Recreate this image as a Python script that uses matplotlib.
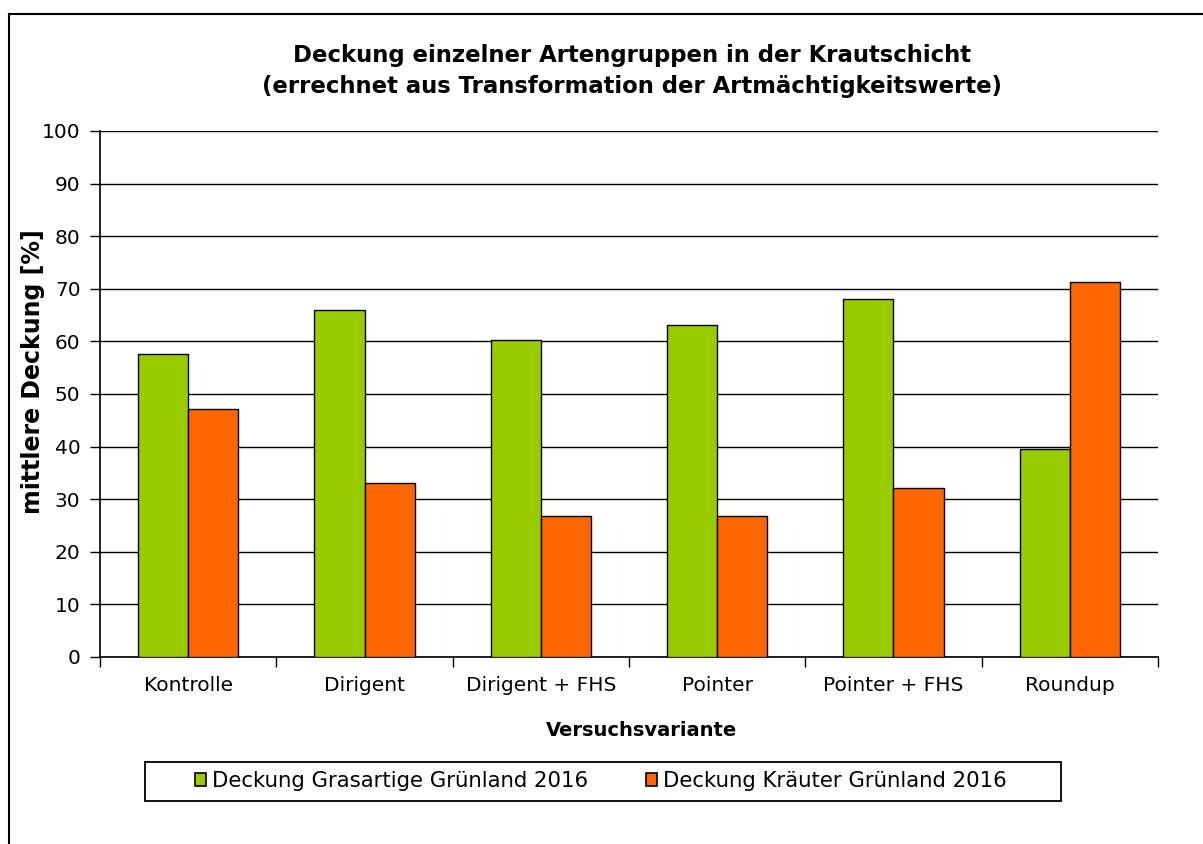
import matplotlib
matplotlib.use("Agg")
import matplotlib.pyplot as plt
import numpy as np
from matplotlib.patches import Rectangle, Patch
from matplotlib.lines import Line2D

plt.rcParams['font.family'] = ['DejaVu Sans']

categories = ["Kontrolle", "Dirigent", "Dirigent + FHS", "Pointer", "Pointer + FHS", "Roundup"]
grasartige = [57.6, 66.0, 60.3, 63.1, 68.1, 39.5]
kraeuter = [47.1, 33.1, 26.8, 26.8, 32.1, 71.3]
labels = ["Deckung Grasartige Grünland 2016", "Deckung Kräuter Grünland 2016"]
colors = ["#99CC00", "#FF6600"]

W, H = 1203, 844
fig = plt.figure(figsize=(W / 100, H / 100), dpi=100)
ax = fig.add_axes([100 / W, 1 - 657 / H, 1058 / W, 526 / H])

x = np.arange(len(categories))
bw = 0.284
ax.bar(x - bw / 2, grasartige, bw, color=colors[0], edgecolor="black", linewidth=1, zorder=3)
ax.bar(x + bw / 2, kraeuter, bw, color=colors[1], edgecolor="black", linewidth=1, zorder=3)

ax.set_xlim(-0.5, len(categories) - 0.5)
ax.set_ylim(0, 100)
ax.set_yticks(range(0, 101, 10))
ax.yaxis.grid(True, color="black", linewidth=1)
ax.set_axisbelow(True)
ax.set_xticks(x)
ax.set_xticklabels(categories)
ax.set_xticks(np.arange(-0.5, len(categories), 1), minor=True)
ax.tick_params(axis="x", which="major", length=0, labelsize=14.5, pad=14)
ax.tick_params(axis="x", which="minor", length=7, width=1, color="black")
ax.tick_params(axis="y", length=7, width=1, labelsize=14.5, pad=7)
for s in ["top", "right"]:
    ax.spines[s].set_visible(False)
for s in ["left", "bottom"]:
    ax.spines[s].set_linewidth(1.2)

# axis titles
fig.text(642 / W, 1 - 731 / H, "Versuchsvariante", ha="center", va="center",
         fontsize=14, fontweight="bold")
fig.text(33 / W, 1 - 372 / H, "mittlere Deckung [%]", ha="center", va="center",
         rotation=90, fontsize=17, fontweight="bold")

fig.text(632 / W, 1 - 71 / H, "Deckung einzelner Artengruppen in der Krautschicht\n(errechnet aus Transformation der Artmächtigkeitswerte)",
         ha="center", va="center", fontsize=16.4, fontweight="bold", linespacing=1.4)

# legend
handles = [Patch(facecolor=c, edgecolor="black", linewidth=1.2) for c in colors]
fig.legend(handles, labels, loc="center", bbox_to_anchor=(601 / W, 1 - 781 / H), ncol=2,
           frameon=False, fontsize=15.3, handlelength=0.52, handleheight=0.52,
           handletextpad=0.28, columnspacing=2.7)
fig.add_artist(Rectangle((145 / W, 1 - 801 / H), 916 / W, 39 / H, transform=fig.transFigure,
                         fill=False, edgecolor="black", linewidth=1.3))

# outer chart frame
fig.add_artist(Line2D([9 / W, 9 / W], [0, 1 - 14 / H], transform=fig.transFigure, color="black", linewidth=1.5))
fig.add_artist(Line2D([9 / W, 1], [1 - 14 / H, 1 - 14 / H], transform=fig.transFigure, color="black", linewidth=1.5))

fig.savefig("out.png", dpi=100)
